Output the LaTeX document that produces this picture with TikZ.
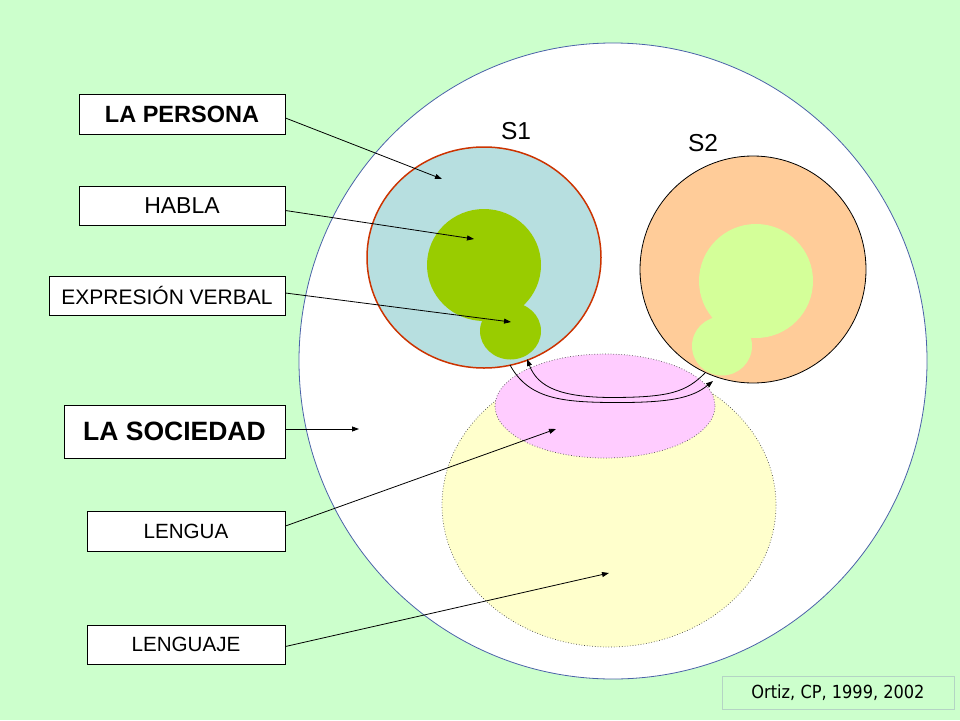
\documentclass[tikz,border=0pt]{standalone}
\usepackage{fontspec}
\setmainfont{Liberation Sans}
\newfontfamily\ortizfont{DejaVu Sans Condensed}
\usetikzlibrary{arrows.meta,calc}
\definecolor{bg}{HTML}{CCFFCC}
\definecolor{bigline}{HTML}{4A62A8}
\definecolor{sone}{HTML}{B7DFE0}
\definecolor{soneline}{HTML}{CC3300}
\definecolor{greenblob}{HTML}{99CC00}
\definecolor{stwo}{HTML}{FFCC99}
\definecolor{lightblob}{HTML}{D4FF99}
\definecolor{pinkfill}{HTML}{FFCCFF}
\definecolor{yellowfill}{HTML}{FFFFCC}
\definecolor{ortizline}{HTML}{B4D4C4}
\begin{document}
\begin{tikzpicture}[x=1pt,y=-1pt,
  box/.style={draw=black, fill=white, line width=0.9pt, inner sep=0pt, align=center},
  arr/.style={-{Triangle[length=7pt,width=5pt]}, line width=0.8pt, black},
  dotline/.style={draw=black!70, line width=0.7pt, dotted}]
\useasboundingbox (0,0) rectangle (960,720);
\fill[bg] (0,0) rectangle (960,720);

% big society ellipse
\draw[bigline, fill=white, line width=0.8pt] (613,361) ellipse [x radius=314, y radius=318];

% lenguaje (yellow) and lengua (pink)
\fill[yellowfill] (609,505) ellipse [x radius=167, y radius=142];
\draw[dotline] (609,505) ellipse [x radius=167, y radius=142];
\fill[pinkfill] (605,406) ellipse [x radius=110, y radius=52];
\draw[dotline] (605,406) ellipse [x radius=110, y radius=52];

% S1
\draw[soneline, fill=sone, line width=1.5pt] (484,257.5) ellipse [x radius=117, y radius=110.5];
\fill[greenblob] (484,265) ellipse [x radius=57, y radius=56];
\fill[greenblob] (510.5,331) ellipse [x radius=30.5, y radius=28.5];

% S2
\draw[black, fill=stwo, line width=0.8pt] (753,269.5) ellipse [x radius=113, y radius=113.5];
\fill[lightblob] (756,281) ellipse [x radius=57, y radius=57];
\fill[lightblob] (722,346) ellipse [x radius=30, y radius=29.5];

% labels S1, S2
\node (s1) at (516,131) {\fontsize{24.5}{28}\selectfont S1};
\node (s2) at (703,143) {\fontsize{24.5}{28}\selectfont S2};

% exchange arrows between S1 and S2
\coordinate (s1out) at (510,365);
\coordinate (s1in) at (527,359);
\coordinate (s2in) at (713,381);
\coordinate (s2out) at (705,373);
\draw[arr] (s1out) .. controls (528,398) and (560,402) .. (610,402.5) .. controls (670,403) and (692,398) .. (s2in);
\draw[arr] (s2out) .. controls (686,392) and (670,397.5) .. (610,397.5) .. controls (562,397) and (538,388) .. (s1in);

% boxes
\node[box, minimum width=206pt, minimum height=40pt] (pers) at (182,114)
  {\fontsize{23.5}{27}\selectfont\bfseries LA PERSONA};
\node[box, minimum width=206pt, minimum height=39pt] (habla) at (182,205.5)
  {\fontsize{23}{27}\selectfont HABLA};
\node[box, minimum width=236pt, minimum height=39pt] (expr) at (167,295.5)
  {\fontsize{21}{25}\selectfont EXPRESIÓN VERBAL};
\node[box, minimum width=221pt, minimum height=53pt] (soc) at (174.5,431.5)
  {\fontsize{26.5}{30}\selectfont\bfseries LA SOCIEDAD};
\node[box, minimum width=198pt, minimum height=40pt] (lengua) at (186,531)
  {\fontsize{20.6}{24}\selectfont LENGUA};
\node[box, minimum width=198pt, minimum height=39pt] (lenguaje) at (186,644.5)
  {\fontsize{20.6}{24}\selectfont LENGUAJE};
\node[draw=ortizline, fill=bg, line width=0.8pt, inner sep=0pt, minimum width=232pt, minimum height=33pt] (ortiz) at (838,692.5)
  {\ortizfont\fontsize{18}{21}\selectfont Ortiz, CP, 1999, 2002};

% targets
\coordinate (tpers) at (442,179);
\coordinate (thabla) at (474,239);
\coordinate (texpr) at (511,322);
\coordinate (tsoc) at (359,429);
\coordinate (tlengua) at (556,429);
\coordinate (tlenguaje) at (609,573);

\draw[arr] ([yshift=-4pt]pers.east) -- (tpers);
\draw[arr] ([yshift=-5pt]habla.east) -- (thabla);
\draw[arr] ([yshift=2.5pt]expr.east) -- (texpr);
\draw[arr] ([yshift=2.5pt]soc.east) -- (tsoc);
\draw[arr] ([yshift=5pt]lengua.east) -- (tlengua);
\draw[arr] ([yshift=-2pt]lenguaje.east) -- (tlenguaje);
\end{tikzpicture}
\end{document}
